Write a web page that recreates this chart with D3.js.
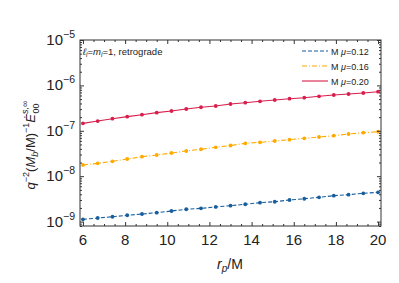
<!DOCTYPE html>
<html><head><meta charset="utf-8">
<script src="https://cdn.jsdelivr.net/npm/d3@7"></script>
<style>body{margin:0;background:#fff}svg{display:block}text{font-family:"Liberation Sans",Arial,sans-serif;fill:#222}</style>
</head><body>
<svg id="c" width="399" height="283"></svg>
<script>
const rp = [6,6.7,7.4,8.1,8.8,9.5,10.2,10.9,11.6,12.3,13,13.7,14.4,15.1,15.8,16.5,17.2,17.9,18.6,19.3,20];
const mu012 = [1.12e-9,1.20e-9,1.28e-9,1.38e-9,1.47e-9,1.57e-9,1.71e-9,1.87e-9,1.96e-9,2.10e-9,2.24e-9,2.41e-9,2.61e-9,2.74e-9,2.99e-9,3.19e-9,3.43e-9,3.72e-9,3.92e-9,4.20e-9,4.42e-9];
const mu016 = [1.77e-8,1.92e-8,2.13e-8,2.39e-8,2.69e-8,2.93e-8,3.24e-8,3.59e-8,3.92e-8,4.33e-8,4.74e-8,5.31e-8,5.58e-8,5.96e-8,6.37e-8,6.84e-8,7.30e-8,7.80e-8,8.51e-8,9.08e-8,9.55e-8];
const mu020 = [1.46e-7,1.64e-7,1.85e-7,2.05e-7,2.26e-7,2.51e-7,2.73e-7,3.02e-7,3.30e-7,3.52e-7,3.89e-7,4.16e-7,4.47e-7,4.77e-7,5.09e-7,5.36e-7,5.75e-7,6.15e-7,6.47e-7,6.81e-7,7.27e-7];
const seriesNames = ["0.12","0.16","0.20"];
const xTicks = [6,8,10,12,14,16,18,20];
const yTickExps = [-5,-6,-7,-8,-9];

const series = [
  {name:seriesNames[0], vals:mu012, color:"#185d9c", dash:"4,2"},
  {name:seriesNames[1], vals:mu016, color:"#ffaa00", dash:"5,2,1,2"},
  {name:seriesNames[2], vals:mu020, color:"#d81e4c", dash:null}
];

const svg = d3.select("#c");
const L=80,R=381,T=40,B=226;
const x = d3.scaleLinear().domain([5.86,20.14]).range([L,R]);
const y = d3.scaleLog().domain([8e-10,1e-5]).range([B,T]);

const line = d3.line().x((d,i)=>x(rp[i])).y(d=>y(d));
series.forEach(s=>{
  svg.append("path").attr("d",line(s.vals)).attr("fill","none")
    .attr("stroke",s.color).attr("stroke-width",1.1)
    .attr("stroke-dasharray",s.dash);
  svg.selectAll(null).data(s.vals).enter().append("circle")
    .attr("cx",(d,i)=>x(rp[i])).attr("cy",d=>y(d)).attr("r",1.9)
    .attr("fill",s.color);
});

svg.append("rect").attr("x",L).attr("y",T).attr("width",R-L).attr("height",B-T)
  .attr("fill","none").attr("stroke","#333").attr("stroke-width",1);

const minorX = d3.range(6,20.01,0.5).filter(v=>v%2!==0);
const minorY = [];
for(let e=-10;e<-5;e++) for(let k=2;k<=9;k++){const v=k*Math.pow(10,e); if(v>=8e-10&&v<=1e-5) minorY.push(v);}
const majY = yTickExps.map(e=>Math.pow(10,e));
function tickGroup(axis, tr){ const g=svg.append("g").attr("transform",tr).call(axis);
  g.select(".domain").remove(); g.selectAll("text").remove(); g.selectAll("line").attr("stroke","#333"); return g;}
tickGroup(d3.axisBottom(x).tickValues(xTicks).tickSize(-4),`translate(0,${B})`);
tickGroup(d3.axisBottom(x).tickValues(minorX).tickSize(-2),`translate(0,${B})`);
tickGroup(d3.axisTop(x).tickValues(xTicks).tickSize(-4),`translate(0,${T})`);
tickGroup(d3.axisTop(x).tickValues(minorX).tickSize(-2),`translate(0,${T})`);
tickGroup(d3.axisLeft(y).tickValues(majY).tickSize(-4),`translate(${L},0)`);
tickGroup(d3.axisLeft(y).tickValues(minorY).tickSize(-2),`translate(${L},0)`);
tickGroup(d3.axisRight(y).tickValues(majY).tickSize(-4),`translate(${R},0)`);
tickGroup(d3.axisRight(y).tickValues(minorY).tickSize(-2),`translate(${R},0)`);

svg.selectAll(null).data(xTicks).enter().append("text")
  .attr("x",d=>x(d)).attr("y",B+19).attr("text-anchor","middle")
  .attr("font-size",15).text(d=>d);
yTickExps.forEach(e=>{
  const t=svg.append("text").attr("x",L-5).attr("y",y(Math.pow(10,e))+5)
    .attr("text-anchor","end").attr("font-size",15);
  t.append("tspan").text("10");
  t.append("tspan").attr("dy",-7).attr("font-size",10.5).text("\u2212"+(-e));
});

const xl = svg.append("text").attr("x",230).attr("y",269).attr("text-anchor","middle").attr("font-size",14);
xl.append("tspan").attr("font-style","italic").text("r");
xl.append("tspan").attr("font-style","italic").attr("font-size",10).attr("dy",3).text("p");
xl.append("tspan").attr("dy",-3).text("/M");

const yl = svg.append("text").attr("transform","translate(35,145) rotate(-90)")
  .attr("text-anchor","middle").attr("font-size",13);
yl.append("tspan").attr("font-style","italic").text("q");
yl.append("tspan").attr("dy",-6).attr("font-size",9).text("\u22122");
yl.append("tspan").attr("dy",6).text("(");
yl.append("tspan").attr("font-style","italic").text("M");
yl.append("tspan").attr("font-style","italic").attr("font-size",9).attr("dy",3).text("b");
yl.append("tspan").attr("dy",-3).text("/M)");
yl.append("tspan").attr("dy",-6).attr("font-size",9).text("\u22121");
yl.append("tspan").attr("dy",6).attr("font-style","italic").text("\u0116");
yl.append("tspan").attr("dy",-7).attr("font-size",9).attr("font-style","italic").text("s,\u221E");
yl.append("tspan").attr("dx",-13).attr("dy",11).attr("font-size",9).text("00");

const an = svg.append("text").attr("x",83).attr("y",55).attr("font-size",9.5);
an.append("tspan").attr("font-style","italic").text("\u2113");
an.append("tspan").attr("font-style","italic").attr("font-size",6.5).attr("dy",2).text("i");
an.append("tspan").attr("dy",-2).text("=");
an.append("tspan").attr("font-style","italic").text("m");
an.append("tspan").attr("font-style","italic").attr("font-size",6.5).attr("dy",2).text("i");
an.append("tspan").attr("dy",-2).text("=1, retrograde");

series.forEach((s,i)=>{
  const yy = 51 + i*15;
  svg.append("line").attr("x1",302).attr("x2",328).attr("y1",yy).attr("y2",yy)
    .attr("stroke",s.color).attr("stroke-width",1.1).attr("stroke-dasharray",s.dash);
  const t = svg.append("text").attr("x",331).attr("y",yy+3.5).attr("font-size",9);
  t.append("tspan").text("M ");
  t.append("tspan").attr("font-style","italic").text("\u03BC");
  t.append("tspan").text("="+s.name);
});
</script>
</body></html>
